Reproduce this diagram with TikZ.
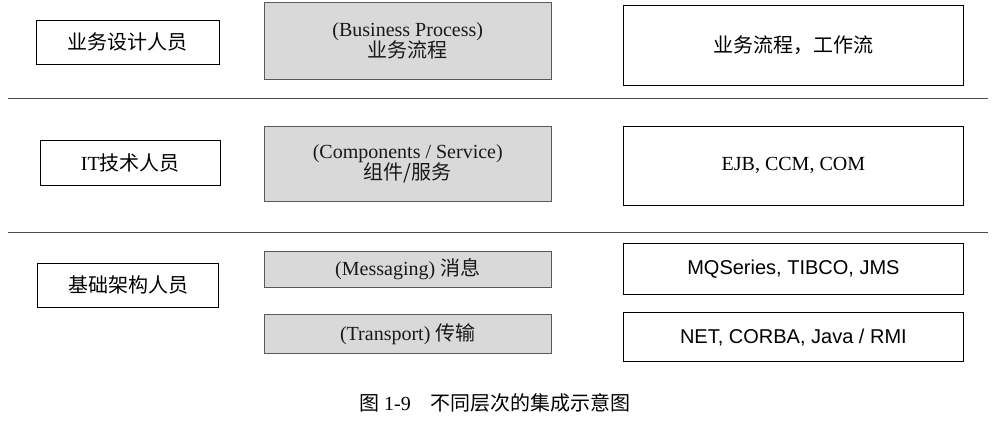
\documentclass[tikz,border=0pt]{standalone}
\usepackage{fontspec}
\setmainfont{Liberation Serif}
\newfontfamily\cjk{Noto Sans CJK SC}
\begin{document}
\begin{tikzpicture}[x=0.75pt,y=-0.75pt,
  lbox/.style={draw,line width=0.6pt,anchor=north west,font=\fontsize{15}{18}\selectfont,inner sep=0pt},
  gbox/.style={lbox,fill=gray!30,draw=gray!70!black},
  sep/.style={line width=0.7pt,gray!60!black}]
\useasboundingbox (0,0) rectangle (995,442);
\newcommand\bx[6]{\node[#1,minimum width=#4*0.75pt,minimum height=#5*0.75pt,align=center] (#6) at (#2,#3) {};}
% left
\node[lbox,minimum width=137pt,minimum height=33pt,align=center] (l1) at (36,20) {\cjk 业务设计人员};
\node[lbox,minimum width=135pt,minimum height=34pt,align=center] (l2) at (40,140) {IT\cjk 技术人员};
\node[lbox,minimum width=136pt,minimum height=33pt,align=center] (l3) at (37,263) {\cjk 基础架构人员};
% middle
\node[gbox,minimum width=215pt,minimum height=58pt,align=center,text=gray!20!black] (m1) at (264,2) {(Business Process)\\[-2pt]{\cjk 业务流程}};
\node[gbox,minimum width=215pt,minimum height=56pt,align=center,text=gray!20!black] (m2) at (264,126) {(Components / Service)\\[-2pt]{\cjk 组件/服务}};
\node[gbox,minimum width=215pt,minimum height=27pt,align=center,text=gray!20!black] (m3) at (264,251) {(Messaging) {\cjk 消息}};
\node[gbox,minimum width=215pt,minimum height=29pt,align=center,text=gray!20!black] (m4) at (264,314) {(Transport) {\cjk 传输}};
% right
\node[lbox,minimum width=255pt,minimum height=60pt,align=center] (r1) at (623,5) {\cjk 业务流程，工作流};
\node[lbox,minimum width=255pt,minimum height=59pt,align=center] (r2) at (623,126) {EJB, CCM, COM};
\node[lbox,minimum width=255pt,minimum height=38pt,align=center,font=\fontsize{15}{18}\sffamily] (r3) at (623,243) {\fontspec{Liberation Sans}MQSeries, TIBCO, JMS};
\node[lbox,minimum width=255pt,minimum height=37pt,align=center] (r4) at (623,312) {\fontspec{Liberation Sans}NET, CORBA, Java / RMI};
% separators
\coordinate (a1) at (8,98); \coordinate (b1) at (988,98);
\coordinate (a2) at (8,232); \coordinate (b2) at (988,232);
\draw[sep] (a1) -- (b1);
\draw[sep] (a2) -- (b2);
\node[font=\fontsize{15}{18}\selectfont] (cap) at (495,403) {{\cjk 图} 1-9\quad{\cjk 不同层次的集成示意图}};
\end{tikzpicture}
\end{document}
